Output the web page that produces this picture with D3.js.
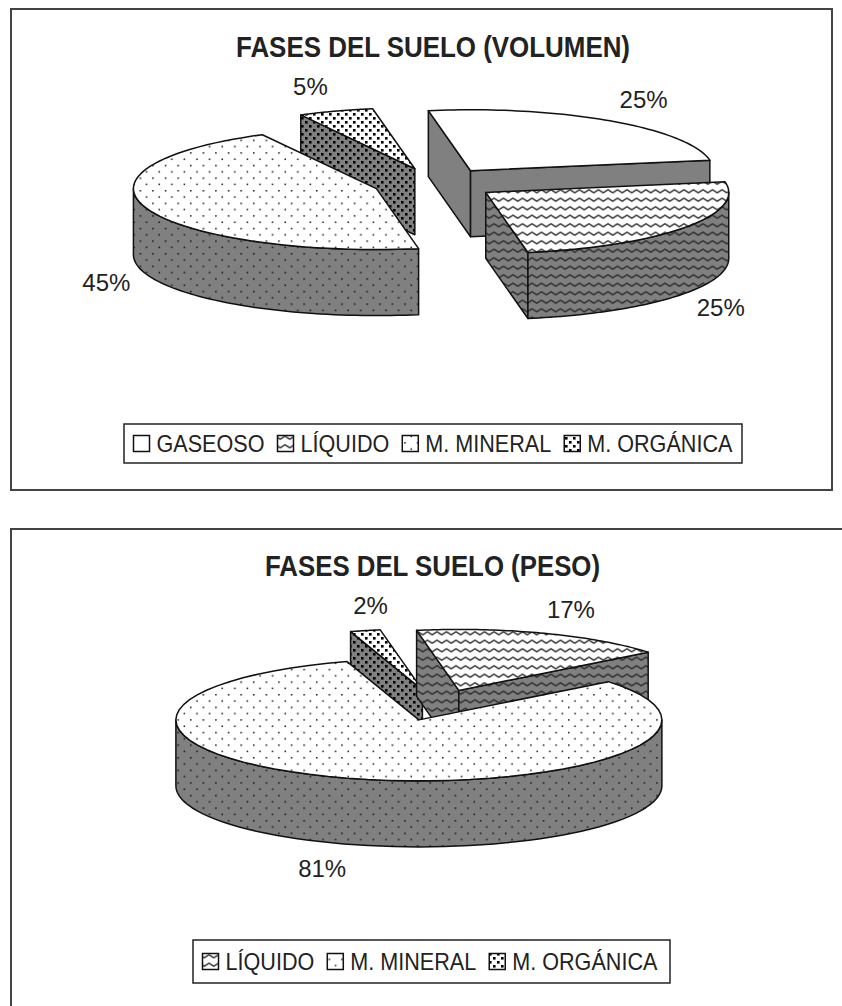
<!DOCTYPE html>
<html><head><meta charset="utf-8">
<script src="https://cdn.jsdelivr.net/npm/d3@7"></script>
<style>html,body{margin:0;padding:0;background:#fff}svg{display:block}text{font-family:"Liberation Sans",Arial,sans-serif;fill:#222}</style>
</head><body><div id="c"></div>
<script>
// ---- data ----
const volumeCategories = ["GASEOSO","LÍQUIDO","M. MINERAL","M. ORGÁNICA"];
const volumeValues = [25,25,45,5];
const volumeTitle = "FASES DEL SUELO (VOLUMEN)";
const weightCategories = ["LÍQUIDO","M. MINERAL","M. ORGÁNICA"];
const weightValues = [17,81,2];
const weightTitle = "FASES DEL SUELO (PESO)";

// ---- layout ----
const W=842,H=1006;
const RX=243,RY=61,DEPTH=66,EXPLODE=0.255,FIRST=-10*Math.PI/180;
const LABEL_RX=355,LABEL_RY=102;
const patternOf={"GASEOSO":"plain","LÍQUIDO":"wave","M. MINERAL":"sparse","M. ORGÁNICA":"dense"};

const svg=d3.select("#c").append("svg").attr("width",W).attr("height",H).attr("viewBox",`0 0 ${W} ${H}`);
const defs=svg.append("defs");
function makePattern(id,bg,kind){
  const sizes={plain:[8,8],wave:[9.5,8.5],sparse:[12.6,12.6],dense:[8,8]};
  const [w,h]=sizes[kind];
  const p=defs.append("pattern").attr("id",id).attr("patternUnits","userSpaceOnUse").attr("width",w).attr("height",h);
  p.append("rect").attr("width",w).attr("height",h).attr("fill",bg);
  if(kind==="wave"){
    const hi=2.75,lo=5.75;
    p.append("path").attr("fill","none").attr("stroke","#2a2a2a").attr("stroke-width",1.4).attr("stroke-linejoin","round")
     .attr("d",d3.line()([[-w/2,lo],[0,hi],[w/2,lo],[w,hi],[1.5*w,lo]]));
  } else if(kind==="sparse"){
    [[1,1],[7.3,7.3]].forEach(d=>p.append("rect").attr("x",d[0]).attr("y",d[1]).attr("width",1.5).attr("height",1.5).attr("fill","#111"));
  } else if(kind==="dense"){
    [[1,1],[5,5]].forEach(d=>p.append("rect").attr("x",d[0]).attr("y",d[1]).attr("width",2.6).attr("height",2.6).attr("fill","#000"));
  }
}
["plain","wave","sparse","dense"].forEach(k=>{makePattern("top-"+k,"#fff",k);makePattern("side-"+k,"#808080",k);});

// frames
svg.append("rect").attr("x",11).attr("y",9).attr("width",821).attr("height",481).attr("fill","none").attr("stroke","#444").attr("stroke-width",2);
svg.append("path").attr("d",d3.line()([[11,H+2],[11,529],[W+2,529]])).attr("fill","none").attr("stroke","#444").attr("stroke-width",2);

function drawChart(o){
  const g=svg.append("g");
  const pts=(cx,cy,a0,a1,dy=0)=>d3.range(0,61).map(i=>{const t=a0+(a1-a0)*i/60;return [cx+RX*Math.sin(t),cy-RY*Math.cos(t)+dy];});
  const line=d3.line();
  const arcs=d3.pie().sort(null).startAngle(FIRST).endAngle(FIRST+2*Math.PI)(o.values);
  const slices=arcs.map((a,i)=>{
    const mid=(a.startAngle+a.endAngle)/2;
    return {a,mid,name:o.categories[i],value:o.values[i],nudge:o.nudges[i],
      x:o.cx+EXPLODE*RX*Math.sin(mid),y:o.cy-EXPLODE*RY*Math.cos(mid)};
  }).sort((p,q)=>p.y-q.y);
  const stroke=sel=>sel.attr("stroke","#111").attr("stroke-width",1.5).attr("stroke-linejoin","round");
  slices.forEach(s=>{
    const k=patternOf[s.name],sg=g.append("g");
    const a0=s.a.startAngle,a1=s.a.endAngle;
    const radial=t=>{const e=[s.x+RX*Math.sin(t),s.y-RY*Math.cos(t)];
      return [[s.x,s.y],e,[e[0],e[1]+DEPTH],[s.x,s.y+DEPTH]];};
    if(Math.sin(a0)<0) stroke(sg.append("path").attr("d",line(radial(a0))+"Z").attr("fill",`url(#side-${k})`));
    if(Math.sin(a1)>0) stroke(sg.append("path").attr("d",line(radial(a1))+"Z").attr("fill",`url(#side-${k})`));
    const b0=Math.max(a0,Math.PI/2),b1=Math.min(a1,1.5*Math.PI);
    if(b1>b0){
      const up=pts(s.x,s.y,b0,b1),dn=pts(s.x,s.y,b0,b1,DEPTH).reverse();
      stroke(sg.append("path").attr("d",line(up.concat(dn))+"Z").attr("fill",`url(#side-${k})`));
    }
    stroke(sg.append("path").attr("d",line([[s.x,s.y]].concat(pts(s.x,s.y,a0,a1)))+"Z").attr("fill",`url(#top-${k})`));
  });
  // percentage labels
  slices.forEach(s=>{
    const front=Math.cos(s.mid)<0?DEPTH:0;
    g.append("text").attr("text-anchor","middle").attr("font-size",24)
     .attr("x",o.cx+LABEL_RX*Math.sin(s.mid)+s.nudge).attr("y",o.cy-LABEL_RY*Math.cos(s.mid)+front+8)
     .text(s.value+"%");
  });
  // title
  g.append("text").attr("transform",`translate(${o.titleX},${o.titleY}) scale(1,1.12)`).attr("text-anchor","middle")
   .attr("font-size",26).attr("font-weight","bold").attr("textLength",o.titleW).attr("lengthAdjust","spacingAndGlyphs").text(o.title);
  // legend
  const lg=g.append("g");
  lg.append("rect").attr("x",o.lx).attr("y",o.ly).attr("width",o.lw).attr("height",o.lh).attr("fill","#fff").attr("stroke","#222").attr("stroke-width",1.5);
  let x=o.lx+9.5;
  o.categories.forEach(n=>{
    const midY=o.ly+o.lh/2;
    lg.append("rect").attr("x",x).attr("y",midY-8).attr("width",16).attr("height",16).attr("fill",`url(#top-${patternOf[n]})`).attr("stroke","#111").attr("stroke-width",1.5);
    const t=lg.append("text").attr("transform",`translate(${x+23},${midY+8.5}) scale(1,1.12)`).attr("font-size",21.6).text(n);
    x+=23+t.node().getComputedTextLength()+13;
  });
}

drawChart({categories:volumeCategories,values:volumeValues,title:volumeTitle,cx:435,cy:183.5,
  nudges:[5,-5,7,-9],titleX:433,titleY:57,titleW:394,lx:124,ly:424,lw:618,lh:39});
drawChart({categories:weightCategories,values:weightValues,title:weightTitle,cx:437,cy:705,
  nudges:[9,-11,17],titleX:432.5,titleY:576,titleW:335,lx:193,ly:940,lw:477,lh:43});
</script></body></html>
